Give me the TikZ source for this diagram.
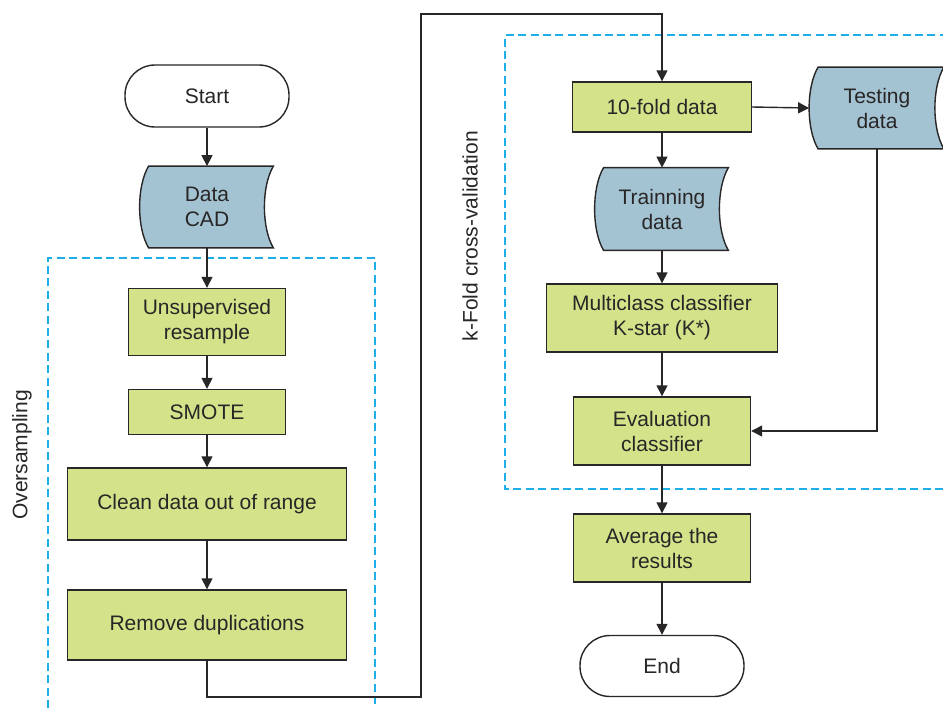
\documentclass[tikz,border=0pt]{standalone}
\usepackage{fontspec}
\setmainfont{Liberation Sans}
\usetikzlibrary{arrows.meta,backgrounds}
\definecolor{boxgreen}{RGB}{212,227,138}
\definecolor{datablue}{RGB}{164,195,210}
\definecolor{frameblue}{RGB}{30,174,232}
\definecolor{linegray}{RGB}{40,38,38}
% data (stored data) shape behind a named node
\newcommand{\datashape}[1]{%
  \begin{scope}[on background layer]
    \draw[datapath] ([xshift=2pt]#1.north west)
      .. controls +(-6pt,-10pt) and +(-6pt,10pt) .. ([xshift=2pt]#1.south west)
      -- ([xshift=2pt]#1.south east)
      .. controls +(-6pt,10pt) and +(-6pt,-10pt) .. ([xshift=2pt]#1.north east)
      -- cycle;
  \end{scope}}
\begin{document}
\begin{tikzpicture}[x=0.5pt, y=-0.5pt,
  font=\fontsize{10.5}{12.5}\selectfont,
  every node/.style={text=linegray, align=center, inner sep=0pt},
  procbox/.style={draw=linegray, line width=0.7pt, fill=boxgreen},
  termbox/.style={draw=linegray, line width=0.7pt, fill=white, rounded corners=15pt,
    minimum width=82pt, minimum height=31pt},
  databox/.style={minimum width=62pt, minimum height=40.5pt},
  datapath/.style={draw=linegray, line width=0.7pt, fill=datablue},
  arrow/.style={draw=linegray, line width=0.7pt, -{Triangle[length=5.5pt,width=5.5pt]}},
  framebox/.style={draw=frameblue, line width=0.8pt, dash pattern=on 4pt off 2.2pt}]
  \useasboundingbox (0,0) rectangle (943,708);

  % frames
  \draw[framebox] (48,708) -- (48,258) -- (375,258) -- (375,708);
  \draw[framebox] (943,489) -- (505,489) -- (505,35) -- (943,35);
  \node[rotate=90] (oversamp) at (22,455) {Oversampling};
  \node[rotate=90] (kfold) at (470,236) {k-Fold cross-validation};

  % left column
  \node[termbox] (start) at (207,96) {Start};
  \node[databox] (data) at (207,207) {Data\\CAD};
  \datashape{data}
  \node[procbox, minimum width=78.5pt, minimum height=33.5pt] (unsup) at (207,322) {Unsupervised\\resample};
  \node[procbox, minimum width=78.5pt, minimum height=22.5pt] (smote) at (207,412) {SMOTE};
  \node[procbox, minimum width=139.5pt, minimum height=36pt] (clean) at (207,504) {Clean data out of range};
  \node[procbox, minimum width=139.5pt, minimum height=35pt] (remove) at (207,625) {Remove duplications};

  % right column
  \node[procbox, minimum width=89.5pt, minimum height=25pt] (fold) at (662,107) {10-fold data};
  \node[databox, minimum width=62.5pt] (testing) at (877,108) {Testing\\data};
  \datashape{testing}
  \node[databox, minimum height=41pt] (train) at (662,209) {Trainning\\data};
  \datashape{train}
  \node[procbox, minimum width=115.5pt, minimum height=34pt] (multi) at (662,318) {Multiclass classifier\\K-star (K*)};
  \node[procbox, minimum width=88.5pt, minimum height=34pt] (eval) at (662,431) {Evaluation\\classifier};
  \node[procbox, minimum width=88.5pt, minimum height=34pt] (avg) at (662,548) {Average the\\results};
  \node[termbox, minimum height=30.5pt] (end) at (662,666) {End};

  % connectors
  \draw[arrow] (start) -- (data);
  \draw[arrow] (data) -- (unsup);
  \draw[arrow] (unsup) -- (smote);
  \draw[arrow] (smote) -- (clean);
  \draw[arrow] (clean) -- (remove);
  \coordinate (turnA) at (421,697);
  \coordinate (turnB) at (421,14);
  \draw[arrow] (remove.south) |- (turnA) -- (turnB) -| (fold.north);
  \draw[arrow] (fold.east) -- ([xshift=-2.5pt]testing.west);
  \draw[arrow] (fold) -- (train);
  \draw[arrow] (train) -- (multi);
  \draw[arrow] (multi) -- (eval);
  \draw[arrow] (testing.south) |- (eval.east);
  \draw[arrow] (eval) -- (avg);
  \draw[arrow] (avg) -- (end);
\end{tikzpicture}
\end{document}
